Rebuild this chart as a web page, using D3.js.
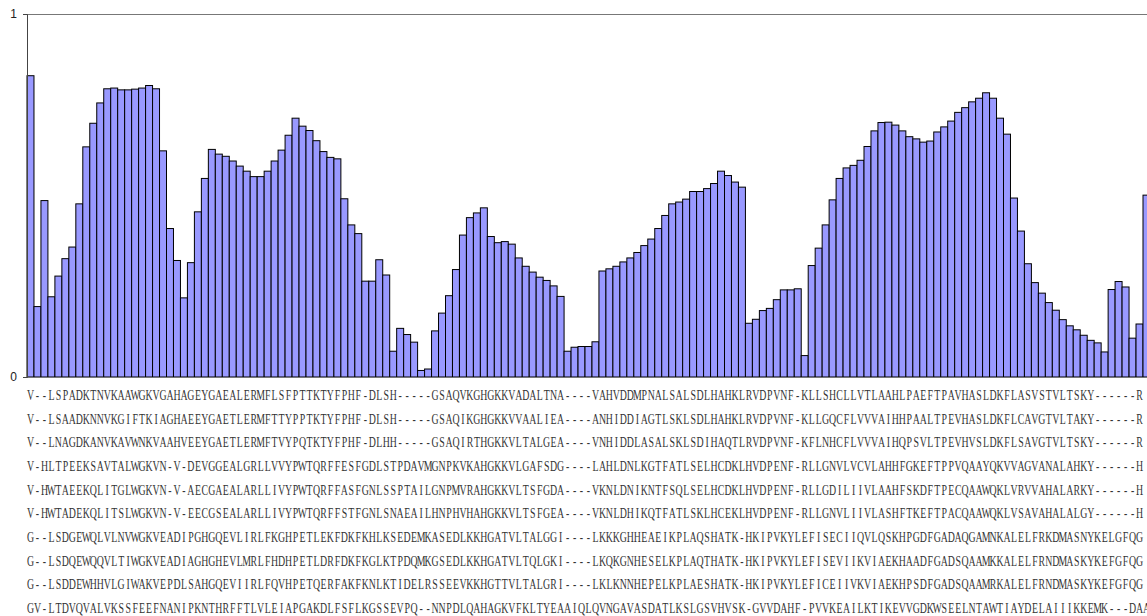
<!DOCTYPE html>
<html>
<head>
<meta charset="utf-8">
<script src="https://cdn.jsdelivr.net/npm/d3@7"></script>
<style>
  body { margin: 0; background: #fff; }
  svg { display: block; }
</style>
</head>
<body>
<svg id="chart" width="1147" height="616"></svg>
<script>
// conservation score per alignment column (visible part)
const scores = [
  0.830, 0.194, 0.486, 0.221, 0.278, 0.326, 0.358, 0.477, 0.634, 0.699,
  0.755, 0.794, 0.796, 0.791, 0.791, 0.793, 0.796, 0.803, 0.794, 0.623,
  0.409, 0.321, 0.218, 0.315, 0.455, 0.547, 0.627, 0.614, 0.608, 0.595,
  0.581, 0.567, 0.552, 0.552, 0.567, 0.595, 0.625, 0.666, 0.713, 0.691,
  0.679, 0.651, 0.621, 0.605, 0.601, 0.491, 0.419, 0.395, 0.264, 0.264,
  0.323, 0.281, 0.071, 0.134, 0.117, 0.096, 0.018, 0.022, 0.127, 0.176,
  0.224, 0.296, 0.391, 0.439, 0.452, 0.466, 0.387, 0.370, 0.373, 0.366,
  0.328, 0.305, 0.289, 0.275, 0.266, 0.251, 0.222, 0.071, 0.082, 0.084,
  0.084, 0.097, 0.292, 0.298, 0.305, 0.317, 0.328, 0.343, 0.362, 0.380,
  0.409, 0.445, 0.477, 0.482, 0.490, 0.511, 0.511, 0.519, 0.533, 0.567,
  0.555, 0.537, 0.523, 0.148, 0.159, 0.183, 0.189, 0.213, 0.240, 0.240,
  0.243, 0.059, 0.307, 0.355, 0.419, 0.488, 0.547, 0.576, 0.583, 0.597,
  0.635, 0.678, 0.701, 0.702, 0.694, 0.678, 0.662, 0.656, 0.647, 0.650,
  0.675, 0.689, 0.705, 0.729, 0.742, 0.758, 0.768, 0.783, 0.768, 0.713,
  0.669, 0.493, 0.402, 0.312, 0.260, 0.231, 0.205, 0.184, 0.158, 0.141,
  0.130, 0.115, 0.101, 0.094, 0.069, 0.241, 0.263, 0.248, 0.107, 0.146,
  0.501
];

// aligned sequences shown under the bars
const sequences = [
  "V--LSPADKTNVKAAWGKVGAHAGEYGAEALERMFLSFPTTKTYFPHF-DLSH-----GSAQVKGHGKKVADALTNA----VAHVDDMPNALSALSDLHAHKLRVDPVNF-KLLSHCLLVTLAAHLPAEFTPAVHASLDKFLASVSTVLTSKY------R",
  "V--LSAADKNNVKGIFTKIAGHAEEYGAETLERMFTTYPPTKTYFPHF-DLSH-----GSAQIKGHGKKVVAALIEA----ANHIDDIAGTLSKLSDLHAHKLRVDPVNF-KLLGQCFLVVVAIHHPAALTPEVHASLDKFLCAVGTVLTAKY------R",
  "V--LNAGDKANVKAVWNKVAAHVEEYGAETLERMFTVYPQTKTYFPHF-DLHH-----GSAQIRTHGKKVLTALGEA----VNHIDDLASALSKLSDIHAQTLRVDPVNF-KFLNHCFLVVVAIHQPSVLTPEVHVSLDKFLSAVGTVLTSKY------R",
  "V-HLTPEEKSAVTALWGKVN-V-DEVGGEALGRLLVVYPWTQRFFESFGDLSTPDAVMGNPKVKAHGKKVLGAFSDG----LAHLDNLKGTFATLSELHCDKLHVDPENF-RLLGNVLVCVLAHHFGKEFTPPVQAAYQKVVAGVANALAHKY------H",
  "V-HWTAEEKQLITGLWGKVN-V-AECGAEALARLLIVYPWTQRFFASFGNLSSPTAILGNPMVRAHGKKVLTSFGDA----VKNLDNIKNTFSQLSELHCDKLHVDPENF-RLLGDILIIVLAAHFSKDFTPECQAAWQKLVRVVAHALARKY------H",
  "V-HWTADEKQLITSLWGKVN-V-EECGSEALARLLIVYPWTQRFFSTFGNLSNAEAILHNPHVHAHGKKVLTSFGEA----VKNLDHIKQTFATLSKLHCEKLHVDPENF-RLLGNVLIIVLASHFTKEFTPACQAAWQKLVSAVAHALALGY------H",
  "G--LSDGEWQLVLNVWGKVEADIPGHGQEVLIRLFKGHPETLEKFDKFKHLKSEDEMKASEDLKKHGATVLTALGGI----LKKKGHHEAEIKPLAQSHATK-HKIPVKYLEFISECIIQVLQSKHPGDFGADAQGAMNKALELFRKDMASNYKELGFQG",
  "G--LSDQEWQQVLTIWGKVEADIAGHGHEVLMRLFHDHPETLDRFDKFKGLKTPDQMKGSEDLKKHGATVLTQLGKI----LKQKGNHESELKPLAQTHATK-HKIPVKYLEFISEVIIKVIAEKHAADFGADSQAAMKKALELFRNDMASKYKEFGFQG",
  "G--LSDDEWHHVLGIWAKVEPDLSAHGQEVIIRLFQVHPETQERFAKFKNLKTIDELRSSEEVKKHGTTVLTALGRI----LKLKNNHEPELKPLAESHATK-HKIPVKYLEFICEIIVKVIAEKHPSDFGADSQAAMRKALELFRNDMASKYKEFGFQG",
  "GV-LTDVQVALVKSSFEEFNANIPKNTHRFFTLVLEIAPGAKDLFSFLKGSSEVPQ--NNPDLQAHAGKVFKLTYEAAIQLQVNGAVASDATLKSLGSVHVSK-GVVDAHF-PVVKEAILKTIKEVVGDKWSEELNTAWTIAYDELAIIIKKEMK---DAA"
];

const yTicks = [0, 1];

const svg = d3.select("#chart");
const W = 1147;
const plotLeft = 27, plotTop = 14, plotBottom = 377;
const colW = 6.975;

const x = d3.scaleBand()
  .domain(d3.range(scores.length))
  .range([plotLeft, plotLeft + colW * scores.length])
  .padding(0);

const y = d3.scaleLinear().domain([0, 1]).range([plotBottom, plotTop]);

// top frame line
svg.append("line")
  .attr("x1", plotLeft).attr("x2", W)
  .attr("y1", plotTop + 0.5).attr("y2", plotTop + 0.5)
  .attr("stroke", "#777").attr("stroke-width", 1);

// bars
svg.append("g")
  .selectAll("rect")
  .data(scores)
  .join("rect")
  .attr("x", (d, i) => x(i))
  .attr("y", d => y(d))
  .attr("width", x.bandwidth())
  .attr("height", d => plotBottom - y(d))
  .attr("fill", "#9999ff")
  .attr("stroke", "#000")
  .attr("stroke-width", 1);

// baseline
svg.append("line")
  .attr("x1", plotLeft - 4).attr("x2", W)
  .attr("y1", plotBottom + 0.5).attr("y2", plotBottom + 0.5)
  .attr("stroke", "#777").attr("stroke-width", 1);

// y axis
const yAxis = svg.append("g")
  .attr("transform", `translate(${plotLeft},0)`)
  .call(d3.axisLeft(y).tickValues(yTicks).tickFormat(d3.format("d")).tickSize(4).tickPadding(6));
yAxis.select(".domain").attr("stroke", "#444");
yAxis.selectAll(".tick line").attr("stroke", "#444");
yAxis.selectAll("text")
  .attr("font-family", "Liberation Sans, Arial, sans-serif")
  .attr("font-size", 12)
  .attr("fill", "#222");

// alignment text, one glyph per column
const rowY = d3.scalePoint().domain(d3.range(sequences.length)).range([400, 613]);

const rowsG = svg.append("g")
  .attr("font-family", "Liberation Serif, Times New Roman, serif")
  .attr("font-size", 14.5)
  .attr("fill", "#333");

sequences.forEach((seq, r) => {
  rowsG.append("g")
    .selectAll("text")
    .data(seq.split(""))
    .join("text")
    .attr("transform", (c, i) => `translate(${x(i) + x.bandwidth() / 2},${rowY(r)}) scale(0.68,1)`)
    .attr("text-anchor", "middle")
    .text(c => c);
});
</script>
</body>
</html>
